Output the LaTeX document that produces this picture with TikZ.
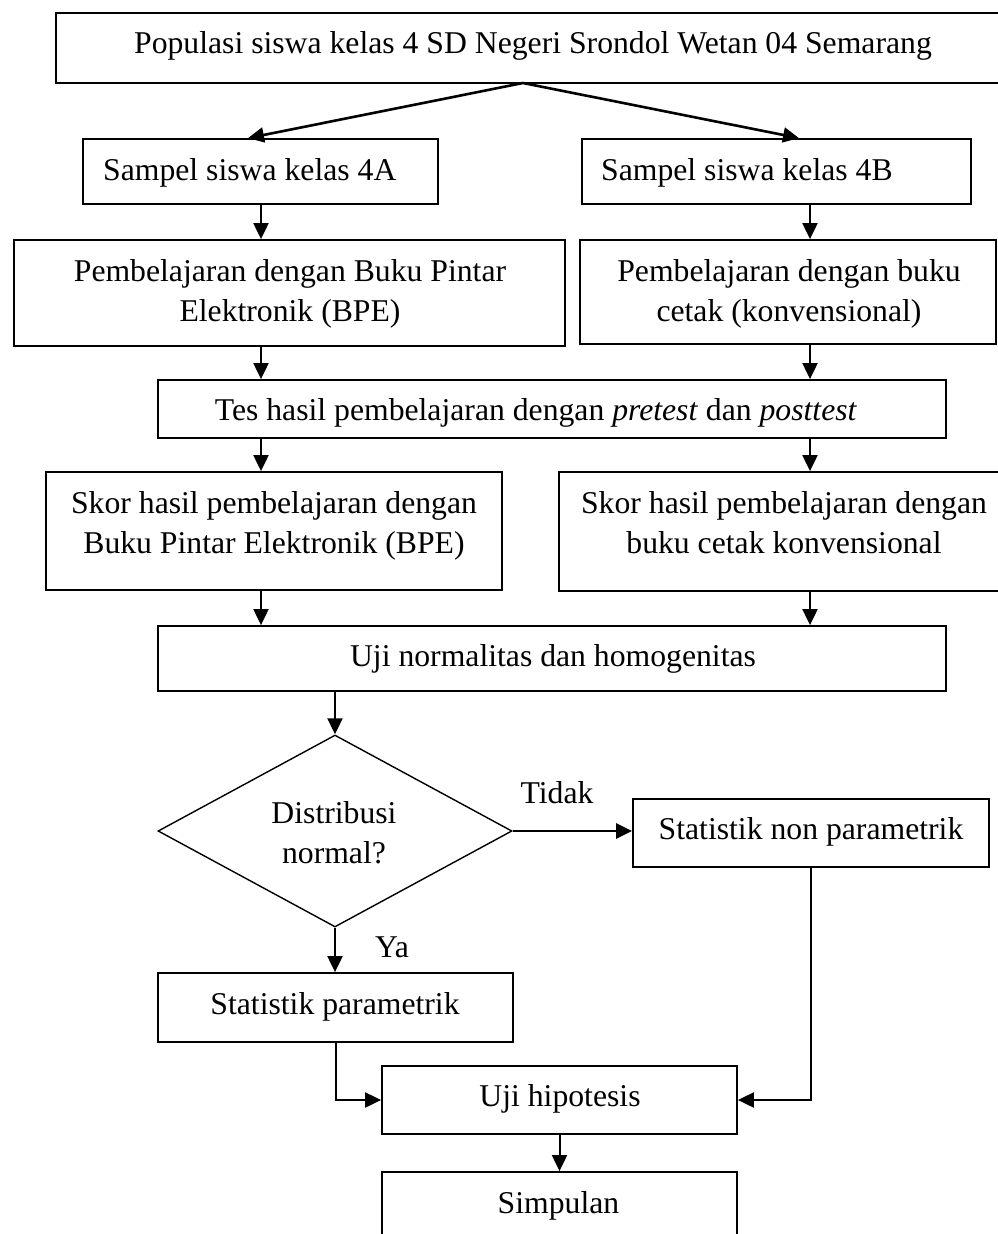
\documentclass[tikz,border=0pt]{standalone}
\usepackage{fontspec}
\setmainfont{Liberation Serif}
\usetikzlibrary{arrows.meta,shapes.geometric}

\begin{document}
\begin{tikzpicture}[x=1pt,y=-1pt,
  box/.style={draw, line width=1.8pt, inner sep=0pt, rectangle},
  decision/.style={draw, line width=1.4pt, inner sep=0pt, diamond},
  lbl/.style={inner sep=0pt, anchor=base, font=\fontsize{31.7}{40}\selectfont},
  lbltwo/.style={lbl, align=flush center, text width=#1},
  flow/.style={line width=2pt, -{Triangle[length=16pt,width=15pt]}},
  flowthick/.style={flow, line width=2.6pt}]

\useasboundingbox (0,0) rectangle (998,1234);
\clip (0,0) rectangle (998,1234);

% boxes
\node[box, minimum width=954, minimum height=70]  (pop)  at (533,48) {};
\node[box, minimum width=355, minimum height=65]  (s4a)  at (260.5,171.5) {};
\node[box, minimum width=389, minimum height=65]  (s4b)  at (776.5,171.5) {};
\node[box, minimum width=551, minimum height=106] (pb)   at (289.5,293) {};
\node[box, minimum width=416, minimum height=104] (pk)   at (788,292) {};
\node[box, minimum width=788, minimum height=58]  (tes)  at (552,409) {};
\node[box, minimum width=456, minimum height=118] (skA)  at (274,531) {};
\node[box, minimum width=451, minimum height=119] (skK)  at (784.5,531.5) {};
\node[box, minimum width=788, minimum height=65]  (uN)   at (552,658.5) {};
\node[decision, minimum width=354, minimum height=192] (dia) at (335,831) {};
\node[box, minimum width=355, minimum height=69]  (sp)   at (335.5,1007.5) {};
\node[box, minimum width=356, minimum height=68]  (snp)  at (811,833) {};
\node[box, minimum width=355, minimum height=68]  (uh)   at (559.5,1100) {};
\node[box, minimum width=355, minimum height=88]  (simp) at (559.5,1216) {};

% texts
\node[lbl] (pop-t) at (533,53) {Populasi siswa kelas 4 SD Negeri Srondol Wetan 04 Semarang};
\node[lbl, anchor=base west] (s4a-t) at (103,180) {Sampel siswa kelas 4A};
\node[lbl, anchor=base west] (s4b-t) at (601,180) {Sampel siswa kelas 4B};
\node[lbltwo=530] (pb-t) at (290,281) {Pembelajaran dengan Buku Pintar\\Elektronik (BPE)};
\node[lbltwo=400] (pk-t) at (789,281) {Pembelajaran dengan buku\\cetak (konvensional)};
\node[lbl] (tes-t) at (536,420) {Tes hasil pembelajaran dengan \textit{pretest} dan \textit{posttest}};
\node[lbltwo=440] (skA-t) at (274,513) {Skor hasil pembelajaran dengan\\Buku Pintar Elektronik (BPE)};
\node[lbltwo=440] (skK-t) at (784,513) {Skor hasil pembelajaran dengan\\buku cetak konvensional};
\node[lbl] (uN-t) at (553,666) {Uji normalitas dan homogenitas};
\node[lbltwo=220] (dia-t) at (334,823) {Distribusi\\normal?};
\node[lbl] (tidak) at (557,803) {Tidak};
\node[lbl] (ya) at (392,957) {Ya};
\node[lbl] (sp-t) at (335,1014) {Statistik parametrik};
\node[lbl] (snp-t) at (811,839) {Statistik non parametrik};
\node[lbl] (uh-t) at (560,1106) {Uji hipotesis};
\node[lbl] (simp-t) at (558.5,1213) {Simpulan};

% helper coordinates for the connector columns
\coordinate (apex) at (523,83);
\coordinate (tipL) at (248,0);
\coordinate (tipR) at (799,0);
\coordinate (colL) at (261,0);
\coordinate (colR) at (810,0);

% connectors
\draw[flowthick] (apex) -- (s4a.north -| tipL);
\draw[flowthick] (apex) -- (s4b.north -| tipR);
\draw[flow] (s4a.south -| colL) -- (pb.north -| colL);
\draw[flow] (s4b.south -| colR) -- (pk.north -| colR);
\draw[flow] (pb.south -| colL) -- (tes.north -| colL);
\draw[flow] (pk.south -| colR) -- (tes.north -| colR);
\draw[flow] (tes.south -| colL) -- (skA.north -| colL);
\draw[flow] (tes.south -| colR) -- (skK.north -| colR);
\draw[flow] (skA.south -| colL) -- (uN.north -| colL);
\draw[flow] (skK.south -| colR) -- (uN.north -| colR);
\draw[flow] (uN.south -| dia.north) -- (dia.north);
\draw[flow] (dia.south) -- (sp.north -| dia.south);
\draw[flow, line width=2.6pt] (dia.east) -- (dia.east -| snp.west);
\draw[flow] (sp.south) |- (uh.west);
\draw[flow] (snp.south) |- (uh.east);
\draw[flow] (uh.south) -- (simp.north);
\end{tikzpicture}
\end{document}
